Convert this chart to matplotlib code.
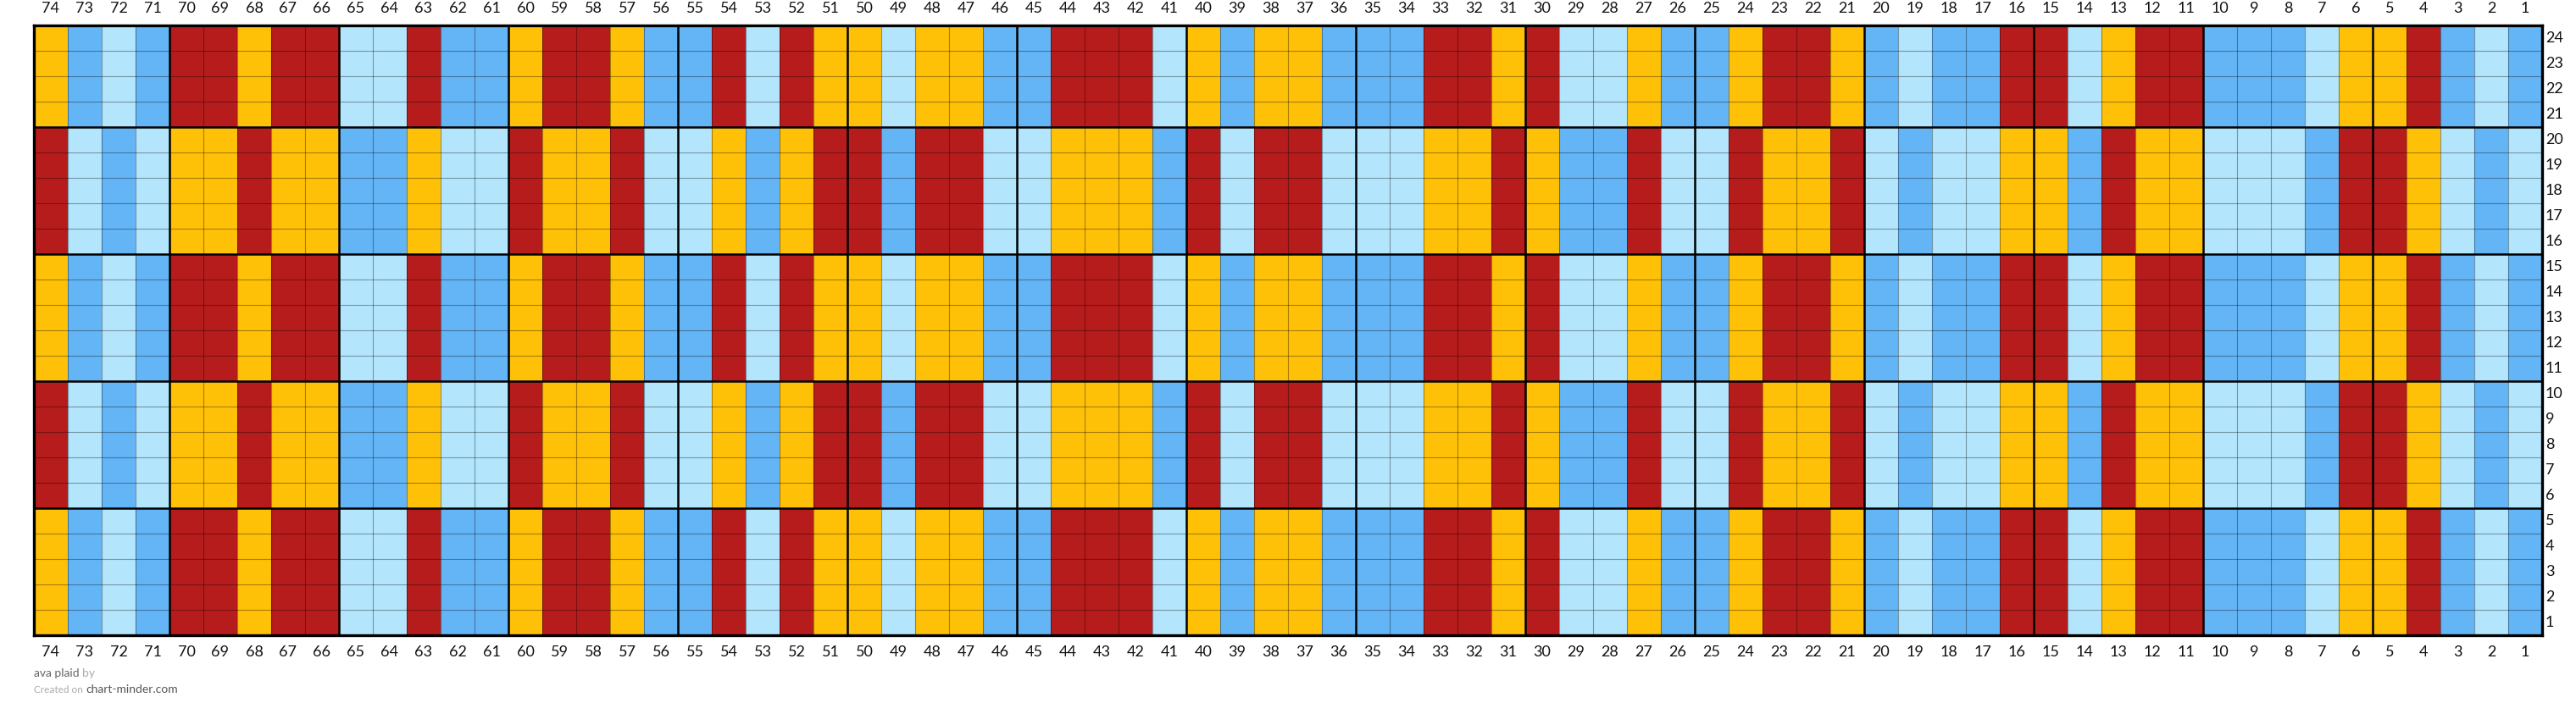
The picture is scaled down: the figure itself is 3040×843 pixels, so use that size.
import matplotlib as mpl
mpl.use('Agg')
import matplotlib.pyplot as plt
import numpy as np
from matplotlib.colors import ListedColormap

# colour keys: Y amber, R red, D mid blue, L light blue
colors = {"Y": "#FFC107", "R": "#B71C1C", "D": "#64B5F6", "L": "#B3E5FC"}
keys = ["Y", "R", "D", "L"]

# columns read left to right (stitch 74 -> 1)
band_a = ("YDLDRRYRRLLRDDYRRYD"
          "DRLRYYLYYDDRRRLYDYY"
          "DDDRRYRLLYDDYRRYDLDD"
          "RRLYRRDDDLYYRDLD")
band_b = ("RLDLYYRYYDDYLLRYYRL"
          "LYDYRRDRRLLYYYDRLRR"
          "LLLYYRYDDRLLRYYRLDLL"
          "YYDRYYLLLDRRYLDL")
# which band each row uses, row 1 -> row 24
row_bands = "AAAAABBBBBAAAAABBBBBAAAA"

n_cols = len(band_a)
n_rows = len(row_bands)
col_labels = list(range(n_cols, 0, -1))
row_labels = list(range(1, n_rows + 1))

grid = np.array([[keys.index(c) for c in (band_a if b == "A" else band_b)]
                 for b in row_bands])

W, H = 3040, 843
fig = plt.figure(figsize=(W / 100, H / 100), dpi=100)
ax = fig.add_axes([40 / W, 93 / H, 2960 / W, 720 / H])
cmap = ListedColormap([colors[k] for k in keys])
ax.imshow(grid, cmap=cmap, vmin=-0.5, vmax=3.5, origin="lower",
          extent=(0, n_cols, 0, n_rows), aspect="auto", interpolation="nearest")

# thin grid
ax.vlines(np.arange(1, n_cols), 0, n_rows, color="black", alpha=0.35, lw=0.8)
ax.hlines(np.arange(1, n_rows), 0, n_cols, color="black", alpha=0.35, lw=0.8)
# thick lines every 5 stitches / rows, counted from the right and bottom
ax.vlines([n_cols - c for c in range(5, n_cols, 5)], 0, n_rows, color="black", lw=1.8)
ax.hlines(np.arange(5, n_rows, 5), 0, n_cols, color="black", lw=1.8)

ax.set_xlim(0, n_cols)
ax.set_ylim(0, n_rows)
ax.set_xticks([])
ax.set_yticks([])
for s in ax.spines.values():
    s.set_linewidth(2.4)
    s.set_color("black")

fnt = "Lato"
for i, lab in enumerate(col_labels):
    ax.text(i + 0.5, n_rows + 0.68, str(lab), ha="center", va="center",
            fontsize=13, family=fnt, color="#111111")
    ax.text(i + 0.5, -0.68, str(lab), ha="center", va="center",
            fontsize=13, family=fnt, color="#111111")
for r in row_labels:
    ax.text(n_cols + 0.1, r - 0.5, str(r), ha="left", va="center",
            fontsize=13, family=fnt, color="#111111")

# footer: pieces placed one after another
renderer = fig.canvas.get_renderer()


def footer(parts, y_px):
    x_px = 40
    for txt, size, col in parts:
        t = fig.text(x_px / W, 1 - y_px / H, txt, ha="left", va="center",
                     fontsize=size, family=fnt, color=col)
        x_px += t.get_window_extent(renderer).width + 3


footer([("ava plaid", 10, "#666666"), ("by", 10, "#aaaaaa")], 795)
footer([("Created on", 8.5, "#aaaaaa"), ("chart-minder.com", 10, "#555555")], 814)

fig.savefig("out.png", dpi=100)
